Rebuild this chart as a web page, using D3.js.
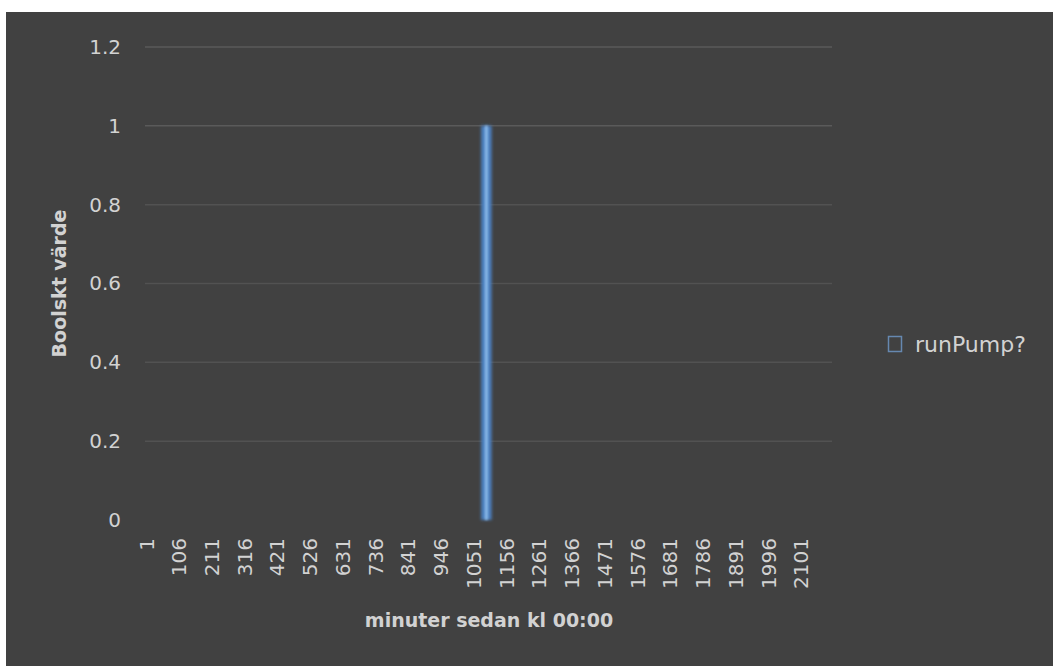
<!DOCTYPE html>
<html>
<head>
<meta charset="utf-8">
<script src="https://cdn.jsdelivr.net/npm/d3@7"></script>
<style>
  html, body { margin: 0; padding: 0; background: #ffffff; }
  svg { display: block; }
  text { font-family: "DejaVu Sans", sans-serif; fill: #d2d2d2; }
</style>
</head>
<body>
<svg id="chart" width="1053" height="666"></svg>
<script>
// Minutes since midnight: one category per logged minute
const minuteCount = 2200;
// Minutes where the pump was running (runPump? = 1); all others are 0
const pumpOnMinutes = [1077, 1078, 1079, 1080, 1081, 1082, 1083, 1084, 1085, 1086,
                       1087, 1088, 1089, 1090, 1091, 1092, 1093, 1094, 1095, 1096,
                       1097, 1098, 1099, 1100, 1101, 1102, 1103, 1104, 1105, 1106,
                       1107];
// Category labels shown on the x axis
const xTickLabels = [1, 106, 211, 316, 421, 526, 631, 736, 841, 946, 1051,
                     1156, 1261, 1366, 1471, 1576, 1681, 1786, 1891, 1996, 2101];
// Y axis ticks
const yTicks = [0, 0.2, 0.4, 0.6, 0.8, 1, 1.2];
const seriesName = "runPump?";
const xTitle = "minuter sedan kl 00:00";
const yTitle = "Boolskt värde";

const minutes = d3.range(1, minuteCount + 1);
const onSet = new Set(pumpOnMinutes);
const series = minutes.map(m => ({ minute: m, value: onSet.has(m) ? 1 : 0 }));

const svg = d3.select("#chart");
const plot = { left: 146, right: 832, top: 47, bottom: 520 };

// chart background
svg.append("rect")
  .attr("x", 6).attr("y", 12)
  .attr("width", 1053 - 6).attr("height", 666 - 12)
  .attr("fill", "#414141");

const x = d3.scaleBand().domain(minutes).range([plot.left, plot.right]).padding(0);
const y = d3.scaleLinear().domain([0, 1.2]).range([plot.bottom, plot.top]);

// horizontal gridlines
svg.append("g")
  .selectAll("line")
  .data(yTicks.filter(t => t > 0))
  .join("line")
  .attr("x1", plot.left - 1).attr("x2", plot.right)
  .attr("y1", d => y(d)).attr("y2", d => y(d))
  .attr("stroke", d => d >= 1 ? "#5a5a5a" : "#525252")
  .attr("stroke-width", 1.5);

// y axis labels
const yAxis = d3.axisLeft(y).tickValues(yTicks).tickSize(0).tickPadding(0)
  .tickFormat(d => d3.format("~g")(d));
const gy = svg.append("g").attr("transform", `translate(${plot.left - 25},0)`).call(yAxis);
gy.select(".domain").remove();
gy.selectAll("text")
  .style("font-family", "DejaVu Sans, sans-serif")
  .attr("font-size", 20)
  .attr("fill", "#d2d2d2");

// x axis labels (rotated)
const xAxis = d3.axisBottom(x).tickValues(xTickLabels).tickSize(0).tickPadding(0);
const gx = svg.append("g").attr("transform", `translate(0,${plot.bottom})`).call(xAxis);
gx.select(".domain").remove();
gx.selectAll("text")
  .style("font-family", "DejaVu Sans, sans-serif")
  .attr("font-size", 20)
  .attr("fill", "#d2d2d2")
  .attr("text-anchor", "end")
  .attr("transform", "translate(0,18) rotate(-90)")
  .attr("x", 0).attr("y", 0).attr("dy", "0.35em");

// soft glow for the columns
const defs = svg.append("defs");
const f = defs.append("filter").attr("id", "glow")
  .attr("x", "-200%").attr("y", "-5%").attr("width", "500%").attr("height", "110%");
f.append("feGaussianBlur").attr("in", "SourceGraphic").attr("stdDeviation", 1.6).attr("result", "soft");
f.append("feMorphology").attr("in", "SourceAlpha").attr("operator", "erode").attr("radius", "3.5 0").attr("result", "core");
f.append("feFlood").attr("flood-color", "#8dbdec").attr("result", "fl");
f.append("feComposite").attr("in", "fl").attr("in2", "core").attr("operator", "in").attr("result", "coreCol");
f.append("feGaussianBlur").attr("in", "coreCol").attr("stdDeviation", 0.9).attr("result", "coreSoft");
const merge = f.append("feMerge");
merge.append("feMergeNode").attr("in", "soft");
merge.append("feMergeNode").attr("in", "coreSoft");

// runPump? columns
svg.append("g")
  .attr("filter", "url(#glow)")
  .selectAll("rect")
  .data(series.filter(d => d.value > 0))
  .join("rect")
  .attr("x", d => x(d.minute) - 0.3)
  .attr("width", x.bandwidth() + 0.6)
  .attr("y", d => y(d.value))
  .attr("height", d => y(0) - y(d.value))
  .attr("fill", "#4d82c2");

// axis titles
svg.append("text")
  .attr("x", (plot.left + plot.right) / 2)
  .attr("y", 627)
  .attr("text-anchor", "middle")
  .attr("font-size", 19)
  .attr("font-weight", "bold")
  .text(xTitle);

svg.append("text")
  .attr("transform", `translate(66,${(plot.top + plot.bottom) / 2}) rotate(-90)`)
  .attr("text-anchor", "middle")
  .attr("font-size", 19)
  .attr("font-weight", "bold")
  .text(yTitle);

// legend
const lg = svg.append("g").attr("transform", "translate(888,344)");
lg.append("rect")
  .attr("x", 0.5).attr("y", -7.5)
  .attr("width", 13).attr("height", 15)
  .attr("fill", "none")
  .attr("stroke", "#6688b0")
  .attr("stroke-width", 1.5);
lg.append("text")
  .attr("x", 27).attr("y", 0).attr("dy", "0.35em")
  .attr("font-size", 22)
  .text(seriesName);
</script>
</body>
</html>
